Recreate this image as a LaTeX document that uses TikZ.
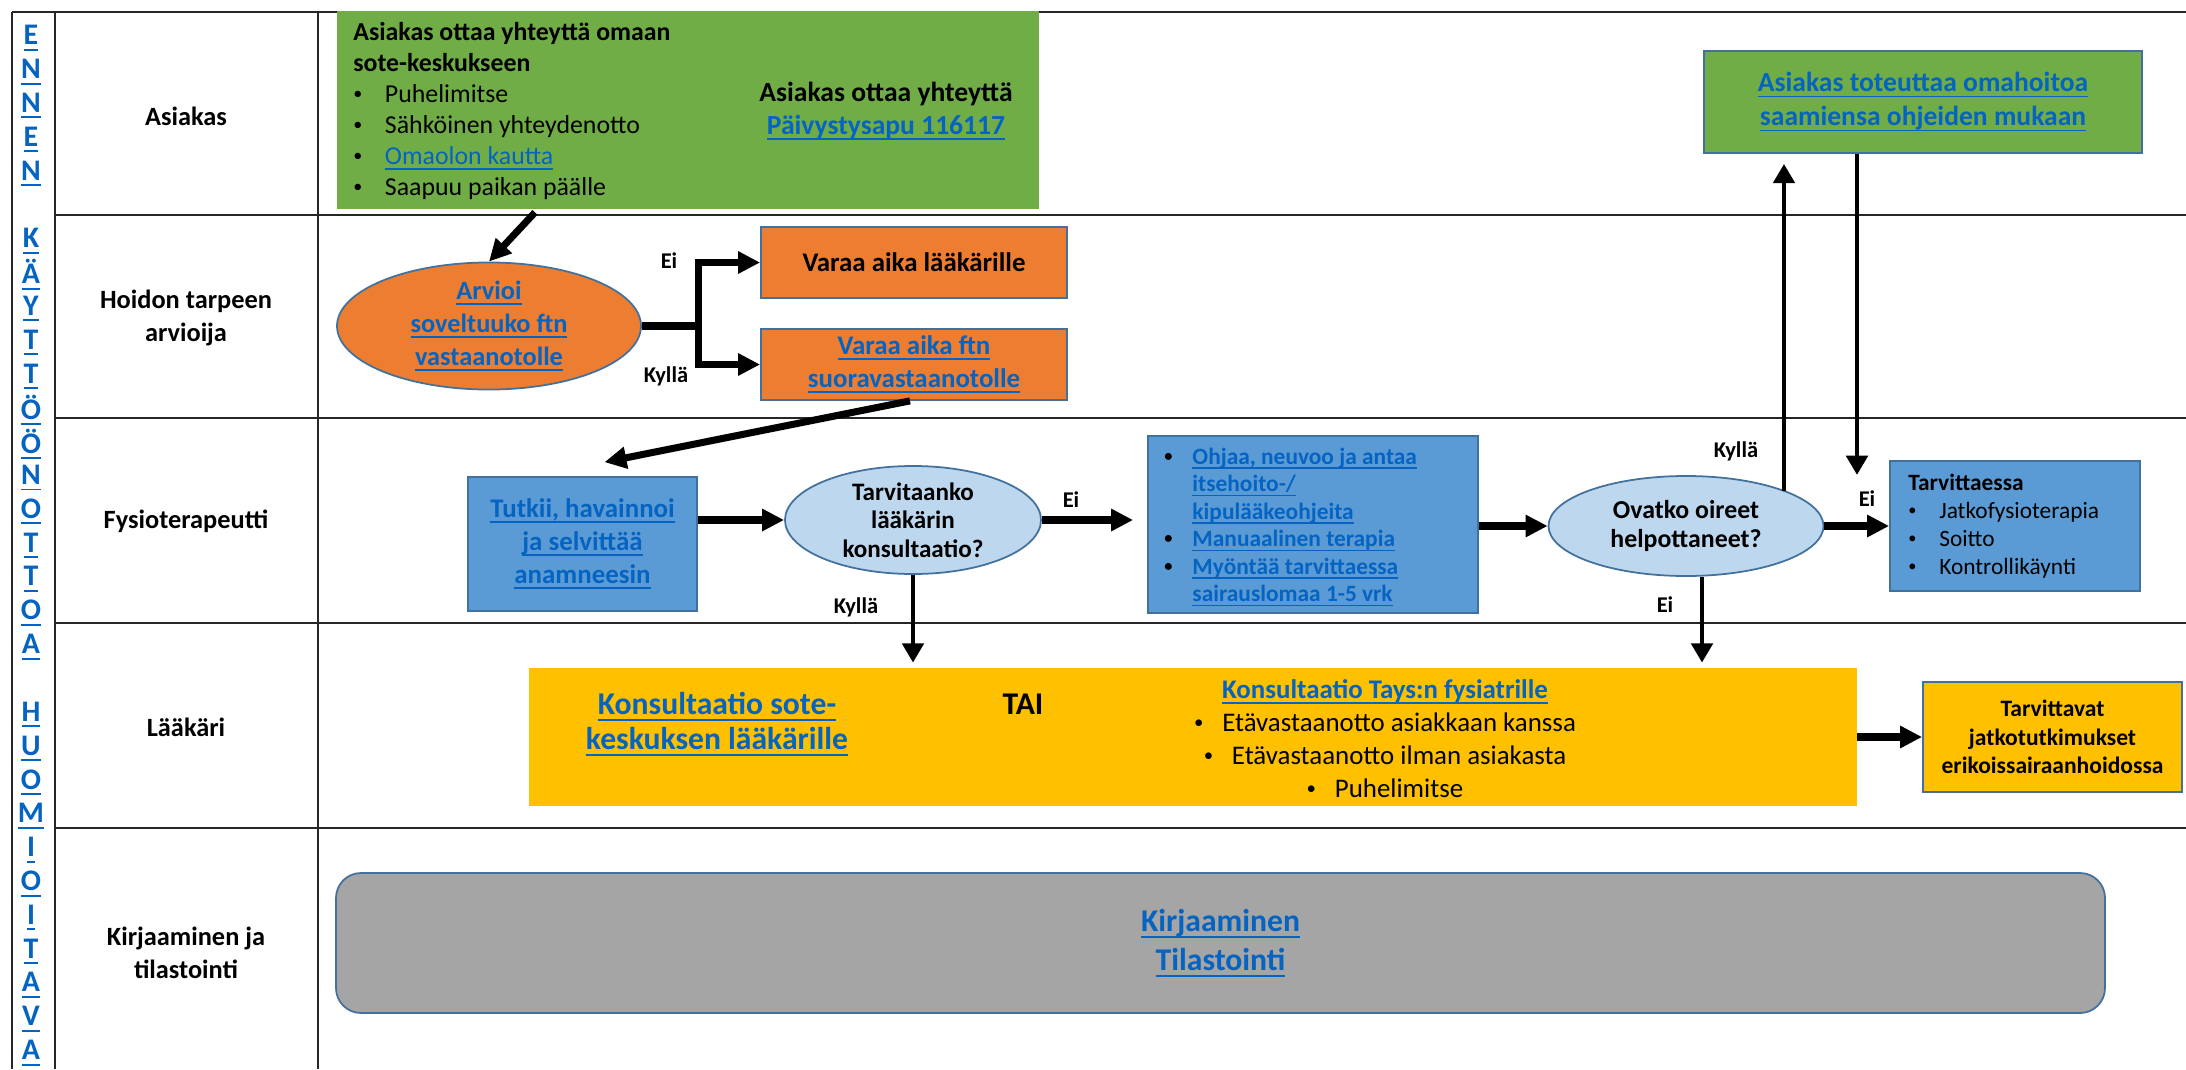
\documentclass[tikz,border=0pt]{standalone}
\usepackage{fontspec}
\usepackage{graphicx}
\setmainfont{Carlito}
\usetikzlibrary{shapes.geometric,arrows.meta,calc}
\definecolor{lnk}{HTML}{0563C1}
\definecolor{grn}{HTML}{70AD47}
\definecolor{org}{HTML}{ED7D31}
\definecolor{blu}{HTML}{5B9BD5}
\definecolor{lblu}{HTML}{BDD7EE}
\definecolor{yel}{HTML}{FFC000}
\definecolor{gry}{HTML}{A5A5A5}
\definecolor{bord}{HTML}{41719C}
\newcommand\lk[1]{\textcolor{lnk}{\setbox0\hbox{#1}\rlap{\rule[-0.2em]{\wd0}{0.065em}}\box0}}
\newcommand\fs[2]{\fontsize{#1pt}{#2pt}\selectfont}
\newcommand\sbul{\raisebox{0.12em}{\scalebox{0.7}{\textbullet}}}
\newcommand\bl[1]{\makebox[#1][l]{\sbul}}
\begin{document}
\begin{tikzpicture}[x=0.2mm,y=-0.2mm,
  tbl/.style={line width=1.6pt, draw=black!85},
  lab/.style={font={\fs{15}{18.8}\bfseries}, align=center, inner sep=0},
  vl/.style={font={\fs{17}{20}\bfseries}, inner sep=0},
  thk/.style={line width=4pt, -{Triangle[length=12.5pt,width=12pt]}},
  thn/.style={line width=2.8pt, -{Triangle[length=11pt,width=12pt]}},
  yn/.style={font={\fs{12.8}{15}\bfseries}, inner sep=0},
  bx/.style={draw=bord, line width=1pt, inner sep=0, align=center},
  el/.style={ellipse, draw=bord, line width=1pt, inner sep=0, align=center},
]
\useasboundingbox (0,0) rectangle (2186,1069);
\fill[white] (0,0) rectangle (2186,1069);

% table
\draw[tbl] (12,12) -- (2186,12);
\draw[tbl] (12,12) -- (12,1069);
\draw[tbl] (55,12) -- (55,1069);
\draw[tbl] (318,12) -- (318,1069);
\foreach \yy in {215,418,623,828} { \draw[tbl] (55,\yy) -- (2186,\yy); }

% left vertical text
\foreach \c [count=\i from 0] in {E,N,N,E,N} { \node[vl] (v\i) at (31,38+\i*33.83) {\lk{\c}}; }
\foreach \c [count=\i from 6] in {K,Ä,Y,T,T,Ö,Ö,N,O,T,T,O,A} { \node[vl] (v\i) at (31,38+\i*33.83) {\lk{\c}}; }
\foreach \c [count=\i from 20] in {H,U,O,M,I,O,I,T,A,V,A} { \node[vl] (v\i) at (31,38+\i*33.83) {\lk{\c}}; }

% row labels
\node[lab] (l1) at (186,116) {Asiakas};
\node[lab] (l2) at (186,318) {Hoidon tarpeen\\arvioija};
\node[lab] (l3) at (186,521) {Fysioterapeutti};
\node[lab] (l4) at (186,727) {Lääkäri};
\node[lab] (l5) at (186,953) {Kirjaaminen ja\\tilastointi};

% row 1
\node[fill=grn, minimum width=140.4mm, minimum height=39.6mm, inner sep=0] (g1) at (688,110) {};
\node[anchor=west, align=left, inner sep=0, font={\fs{14.7}{17.6}}] (g1t) at (353,111)
  {\textbf{Asiakas ottaa yhteyttä omaan}\\\textbf{sote-keskukseen}\\\bl{18pt}Puhelimitse\\\bl{18pt}Sähköinen yhteydenotto\\\bl{18pt}\lk{Omaolon kautta}\\\bl{18pt}Saapuu paikan päälle};
\node[align=center, inner sep=0, font={\fs{15.7}{18.8}\bfseries}] (g1r) at (886,111)
  {Asiakas ottaa yhteyttä\\\lk{Päivystysapu 116117}};
\node[bx, fill=grn, minimum width=87.6mm, minimum height=20.4mm, font={\fs{15.7}{19.3}\bfseries}] (g2) at (1923,102)
  {\lk{Asiakas toteuttaa omahoitoa}\\\lk{saamiensa ohjeiden mukaan}};

% row 2
\node[el, fill=org, minimum width=60.8mm, minimum height=23.2mm, font={\fs{15}{18.8}\bfseries}] (arv) at (489,326)
  {\lk{Arvioi}\\\lk{soveltuuko ftn}\\\lk{vastaanotolle}};
\node[bx, fill=org, minimum width=61.2mm, minimum height=14.2mm, font={\fs{15.3}{18.8}\bfseries}] (va1) at (914,262.5) {Varaa aika lääkärille};
\node[bx, fill=org, minimum width=61.2mm, minimum height=14.2mm, font={\fs{15.3}{18.8}\bfseries}] (va2) at (914,364.5)
  {\lk{Varaa aika ftn}\\\lk{suoravastaanotolle}};

% row 3
\node[bx, fill=blu, minimum width=45.8mm, minimum height=26.8mm, font={\fs{15.3}{18.8}\bfseries}] (tut) at (582.5,544)
  {\lk{Tutkii, havainnoi}\\\lk{ja selvittää}\\\lk{anamneesin}};
\node[el, fill=lblu, minimum width=51.2mm, minimum height=21.6mm, font={\fs{14.3}{16.2}\bfseries}] (tarv) at (913,520)
  {Tarvitaanko\\lääkärin\\konsultaatio?};
\node[bx, fill=blu, minimum width=66mm, minimum height=35.4mm] (lst) at (1313,524.5) {};
\node[anchor=west, align=left, inner sep=0, font={\fs{13.3}{15.65}\bfseries}] (lstT) at (1164,527)
  {\bl{16pt}\lk{Ohjaa, neuvoo ja antaa}\\\hspace*{16pt}\lk{itsehoito-/}\\\hspace*{16pt}\lk{kipulääkeohjeita}\\\bl{16pt}\lk{Manuaalinen terapia}\\\bl{16pt}\lk{Myöntää tarvittaessa}\\\hspace*{16pt}\lk{sairauslomaa 1-5 vrk}};
\node[el, fill=lblu, minimum width=55mm, minimum height=20mm, font={\fs{14.7}{17}\bfseries}] (ovat) at (1686,526)
  {Ovatko oireet\\helpottaneet?};
\node[bx, fill=blu, minimum width=50mm, minimum height=26mm] (tv) at (2015,526) {};
\node[anchor=west, align=left, inner sep=0, font={\fs{13.3}{15.9}}] (tvT) at (1908,526)
  {\textbf{Tarvittaessa}\\\bl{17.6pt}Jatkofysioterapia\\\bl{17.6pt}Soitto\\\bl{17.6pt}Kontrollikäynti};

% row 4
\node[fill=yel, minimum width=265.6mm, minimum height=27.6mm, inner sep=0] (yl) at (1193,737) {};
\node[align=center, inner sep=0, font={\fs{18}{20}\bfseries}] (ks) at (717,724)
  {\lk{Konsultaatio sote-}\\\lk{keskuksen lääkärille}};
\node[inner sep=0, font={\fs{18}{20}\bfseries}] (tai) at (1023,704) {TAI};
\node[align=center, inner sep=0, font={\fs{15.3}{18.8}}] (tays) at (1385,739)
  {\textbf{\lk{Konsultaatio Tays:n fysiatrille}}\\\sbul\hspace{0.7em}Etävastaanotto asiakkaan kanssa\\\sbul\hspace{0.7em}Etävastaanotto ilman asiakasta\\\sbul\hspace{0.7em}Puhelimitse};
\node[bx, fill=yel, minimum width=51.8mm, minimum height=22mm, font={\fs{13.4}{16.2}\bfseries}] (tj) at (2052.5,737)
  {Tarvittavat\\jatkotutkimukset\\erikoissairaanhoidossa};

% row 5
\node[bx, fill=gry, rounded corners=5mm, minimum width=353.8mm, minimum height=28mm, font={\fs{18}{22.2}\bfseries}] (gr) at (1220.5,943)
  {\lk{Kirjaaminen}\\\lk{Tilastointi}};

% connectors
\draw[thk] ($(g1.south)+(-153,3)$) -- (arv.north);
\coordinate (br) at ($(arv.east)+(57,0)$);
\draw[thk] (arv.east) -- (br) |- (va1.west);
\draw[thk] (br) |- (va2.west);
\node[yn] (e1) at (669,261) {Ei};
\node[yn] (k1) at (666,376) {Kyllä};

\draw[thk] ($(va2.south)+(-4,0)$) -- ($(tut.north)+(22,-14)$);
\draw[thk] (tut.east |- tarv.west) -- (tarv.west);
\draw[thk] (tarv.east) -- ($(lst.west |- tarv.east)+(-14,0)$);
\node[yn] (e2) at (1071,500) {Ei};
\draw[thk] (lst.east |- ovat.west) -- (ovat.west);
\draw[thk] (ovat.east) -- (tv.west |- ovat.east);
\node[yn] (e3) at (1867,499) {Ei};

\coordinate (upS) at (1784,491);
\draw[thn] (upS) -- ($(g2.south -| upS)+(0,10)$);
\node[yn] (k3) at (1736,451) {Kyllä};
\coordinate (dnE) at (1857,475);
\draw[thn] ($(g2.south)+(-66,0)$) -- (dnE);

\draw[thn] (tarv.south) -- ($(yl.north -| tarv.south)+(0,-5)$);
\node[yn] (k2) at (856,607) {Kyllä};
\draw[thn] ($(ovat.south)+(16,0)$) -- ($(yl.north -| ovat.south)+(16,-5)$);
\node[yn] (e4) at (1665,605) {Ei};

\draw[thk] (yl.east) -- (tj.west);
\end{tikzpicture}
\end{document}
